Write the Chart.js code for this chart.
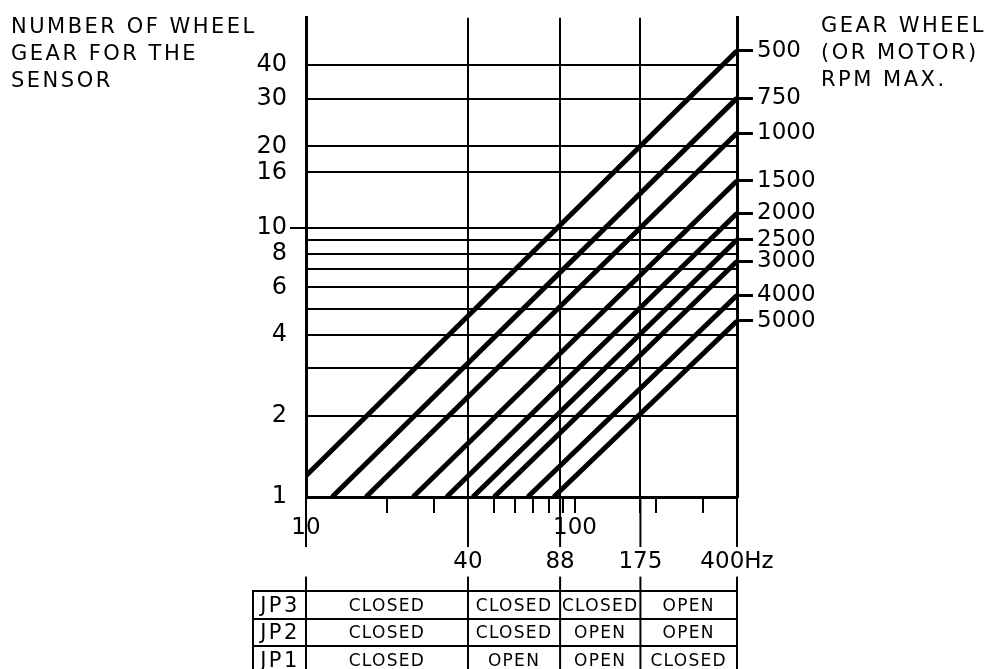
<!DOCTYPE html>
<html>
<head>
<meta charset="utf-8">
<script src="https://cdn.jsdelivr.net/npm/chart.js@4.4.1/dist/chart.umd.min.js"></script>
<style>
  body { margin: 0; background: #fff; }
  #wrap { position: relative; width: 993px; height: 669px; overflow: hidden; }
  .title {
    position: absolute; font-family: 'DejaVu Sans', sans-serif; font-size: 21px;
    line-height: 27px; letter-spacing: 2.5px; color: #000; white-space: pre;
  }
  #jpTable {
    position: absolute; border-collapse: separate; border-spacing: 0;
    table-layout: fixed; font-family: 'DejaVu Sans', sans-serif; color: #000;
  }
  #jpTable td {
    border-top: 2px solid #000; height: 25.5px; padding: 0; text-align: center;
    font-size: 17px; letter-spacing: 1.3px; white-space: nowrap;
  }
  #jpTable td.jp { border-left: 2px solid #000; font-size: 21px; letter-spacing: 2.5px; }
</style>
</head>
<body>
<div id="wrap">
  <canvas id="chart"></canvas>
  <div class="title" style="left:11px; top:13px;">NUMBER OF WHEEL
GEAR FOR THE
SENSOR</div>
  <div class="title" style="left:821px; top:12px;">GEAR WHEEL
(OR MOTOR)
RPM MAX.</div>
  <table id="jpTable"></table>
</div>
<script>
// 每条线：转速上限、起点 (Hz, 齿数)、终点 (Hz, 齿数)
const rpmLabels = ['500', '750', '1000', '1500', '2000', '2500', '3000', '4000', '5000']
const startHz = [10, 12.5, 16.7, 25, 33.3, 41.7, 50, 66.7, 83.3]
const startGears = [1.2, 1, 1, 1, 1, 1, 1, 1, 1]
const endHz = [400, 400, 400, 400, 400, 400, 400, 400, 400]
const endGears = [45.3, 30.2, 22.4, 14.9, 11.3, 9.0, 7.5, 5.6, 4.5]

// 坐标轴刻度
const gearTicks = [1, 2, 3, 4, 5, 6, 7, 8, 9, 10, 16, 20, 30, 40]
const gearLabels = [1, 2, 4, 6, 8, 10, 16, 20, 30, 40]
const hzTicks = [10, 20, 30, 40, 50, 60, 70, 80, 88, 90, 100, 175, 200, 300, 400]
const hzLabels = [10, 100]
const bandHz = [10, 40, 88, 175, 400]
const bandLabels = ['', '40', '88', '175', '400Hz']

// 跳线表
const jumpers = ['JP3', 'JP2', 'JP1']
const jp3 = ['CLOSED', 'CLOSED', 'CLOSED', 'OPEN']
const jp2 = ['CLOSED', 'CLOSED', 'OPEN', 'OPEN']
const jp1 = ['CLOSED', 'OPEN', 'OPEN', 'CLOSED']

const FONT = 'DejaVu Sans'
const BLACK = '#000'

const datasets = rpmLabels.map((rpm, i) => ({
  label: rpm,
  data: [{ x: startHz[i], y: startGears[i] }, { x: endHz[i], y: endGears[i] }],
  borderColor: BLACK,
  borderWidth: 5,
  pointRadius: 0,
  fill: false
}))

// 延长的竖线（穿过标签一直到表格）
const extendLines = {
  id: 'extendLines',
  beforeDraw(chart) {
    const { ctx, chartArea } = chart
    const x = chart.scales.x
    ctx.save()
    ctx.strokeStyle = BLACK
    ctx.lineWidth = 2
    bandHz.forEach(v => {
      const px = x.getPixelForValue(v)
      ctx.beginPath()
      ctx.moveTo(px, chartArea.bottom)
      ctx.lineTo(px, chart.height)
      ctx.stroke()
    })
    ctx.restore()
  }
}

const chart = new Chart(document.getElementById('chart'), {
  type: 'line',
  data: { datasets },
  plugins: [extendLines],
  options: {
    responsive: true,
    maintainAspectRatio: false,
    animation: false,
    layout: { padding: { top: 12, left: 0, right: 0, bottom: 0 } },
    plugins: { legend: { display: false }, tooltip: { enabled: false } },
    scales: {
      x: {
        type: 'logarithmic',
        position: 'bottom',
        min: 10,
        max: 400,
        afterBuildTicks: s => { s.ticks = hzTicks.map(v => ({ value: v })) },
        afterFit: s => { s.height = 40 },
        border: { color: BLACK, width: 3 },
        grid: {
          color: c => (c.tick && [40, 88, 175].includes(c.tick.value)) ? BLACK : 'rgba(0,0,0,0)',
          lineWidth: 2,
          tickColor: BLACK,
          tickWidth: 2,
          tickLength: 16
        },
        ticks: {
          autoSkip: false,
          maxRotation: 0,
          padding: 1,
          color: BLACK,
          font: { family: FONT, size: 23 },
          callback: v => hzLabels.includes(v) ? String(v) : ''
        }
      },
      x2: {
        type: 'logarithmic',
        position: 'bottom',
        min: 10,
        max: 400,
        afterBuildTicks: s => { s.ticks = bandHz.map(v => ({ value: v })) },
        afterFit: s => { s.height = 132 },
        border: { display: false },
        grid: { display: false },
        ticks: {
          autoSkip: false,
          maxRotation: 0,
          padding: 3,
          color: BLACK,
          font: { family: FONT, size: 23 },
          showLabelBackdrop: true,
          backdropColor: '#fff',
          backdropPadding: { top: 1, bottom: 1, left: 2, right: 2 },
          callback: v => bandLabels[bandHz.indexOf(v)]
        }
      },
      y: {
        type: 'logarithmic',
        position: 'left',
        min: 1,
        max: 60,
        afterBuildTicks: s => { s.ticks = gearTicks.map(v => ({ value: v })) },
        afterFit: s => { s.width = 306 },
        border: { color: BLACK, width: 3 },
        grid: {
          color: BLACK,
          lineWidth: 2,
          tickColor: c => (c.tick && c.tick.value === 10) ? BLACK : 'rgba(0,0,0,0)',
          tickLength: 16
        },
        ticks: {
          autoSkip: false,
          padding: 3,
          color: BLACK,
          font: { family: FONT, size: 24 },
          callback: v => gearLabels.includes(v) ? String(v) : ''
        }
      },
      y2: {
        type: 'logarithmic',
        position: 'right',
        min: 1,
        max: 60,
        afterBuildTicks: s => { s.ticks = endGears.map(v => ({ value: v })) },
        afterFit: s => { s.width = 256 },
        border: { color: BLACK, width: 3 },
        grid: {
          drawOnChartArea: false,
          tickColor: BLACK,
          tickWidth: 3,
          tickLength: 16
        },
        ticks: {
          autoSkip: false,
          padding: 4,
          color: BLACK,
          font: { family: FONT, size: 23 },
          callback: v => rpmLabels[endGears.indexOf(v)]
        }
      }
    }
  }
})

// 根据 x 轴位置生成跳线表
function buildTable() {
  const table = document.getElementById('jpTable')
  const x = chart.scales.x
  const edges = bandHz.map(v => x.getPixelForValue(v))
  const jpWidth = 54
  table.style.left = (edges[0] - jpWidth) + 'px'
  table.style.top = '590px'

  const colgroup = document.createElement('colgroup')
  const widths = [jpWidth]
  for (let i = 1; i < edges.length; i++) widths.push(edges[i] - edges[i - 1])
  widths.forEach(w => {
    const col = document.createElement('col')
    col.style.width = w + 'px'
    colgroup.appendChild(col)
  })
  table.appendChild(colgroup)
  table.style.width = widths.reduce((a, b) => a + b, 0) + 'px'

  const rows = [jp3, jp2, jp1]
  jumpers.forEach((name, r) => {
    const tr = document.createElement('tr')
    const th = document.createElement('td')
    th.className = 'jp'
    th.textContent = name
    tr.appendChild(th)
    rows[r].forEach(state => {
      const td = document.createElement('td')
      td.textContent = state
      tr.appendChild(td)
    })
    table.appendChild(tr)
  })
}

buildTable()
</script>
</body>
</html>
